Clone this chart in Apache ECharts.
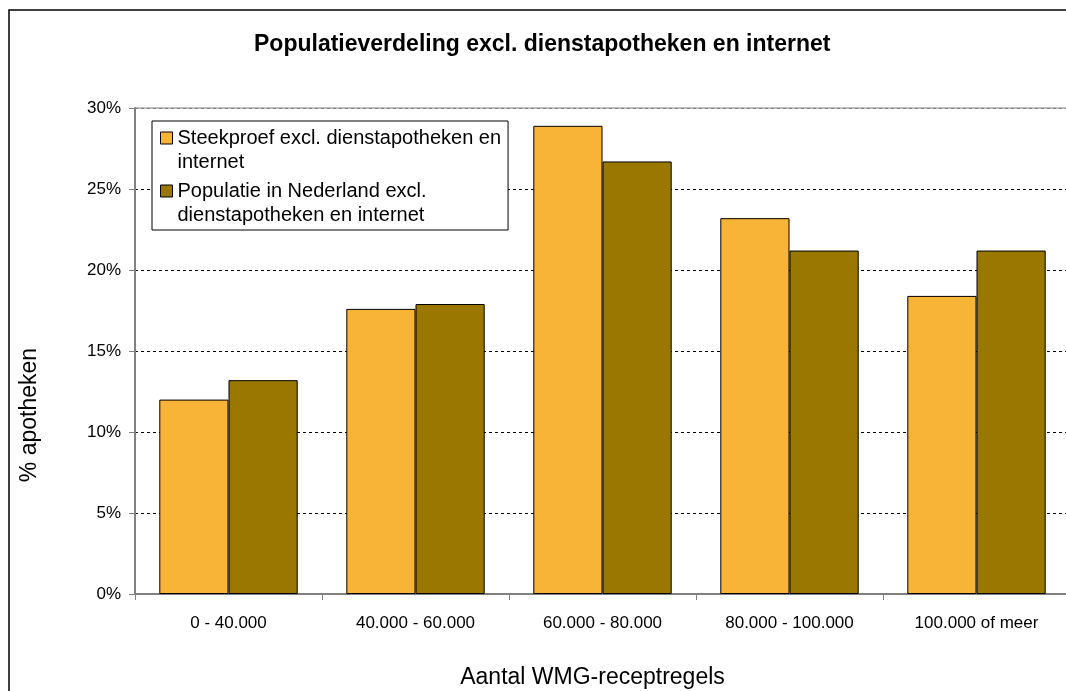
<!DOCTYPE html>
<html>
<head>
<meta charset="utf-8">
<script src="https://cdn.jsdelivr.net/npm/echarts@6/dist/echarts.min.js"></script>
<style>
html,body{margin:0;padding:0;background:#fff;}
#chart{width:1066px;height:691px;}
</style>
</head>
<body>
<div id="chart"></div>
<script>
const categories = ['0 - 40.000', '40.000 - 60.000', '60.000 - 80.000', '80.000 - 100.000', '100.000 of meer'];
const seriesNames = ['Steekproef excl. dienstapotheken en internet', 'Populatie in Nederland excl. dienstapotheken en internet'];
const legendLabels = ['Steekproef excl. dienstapotheken en\ninternet', 'Populatie in Nederland excl.\ndienstapotheken en internet'];
const steekproef = [12.0, 17.6, 28.9, 23.2, 18.4];
const populatie = [13.2, 17.9, 26.7, 21.2, 21.2];
const yTicks = [0, 5, 10, 15, 20, 25, 30];

const chart = echarts.init(document.getElementById('chart'), null, {renderer: 'canvas'});
const FONT = '"Liberation Sans", Arial, sans-serif';
const labelMap = {};
seriesNames.forEach((n, i) => { labelMap[n] = legendLabels[i]; });

const option = {
  animation: false,
  backgroundColor: '#fff',
  textStyle: {fontFamily: FONT, color: '#000'},
  title: {
    text: 'Populatieverdeling excl. dienstapotheken en internet',
    left: 249, top: 28,
    textStyle: {fontFamily: FONT, fontSize: 23, fontWeight: 'bold', color: '#000'}
  },
  legend: {
    orient: 'vertical',
    left: 152, top: 121,
    padding: [5, 7, 3, 8],
    itemWidth: 12, itemHeight: 36, itemGap: 5,
    icon: 'path://M0,0H12V12H0Z M0,36',
    itemStyle: {borderColor: '#000', borderWidth: 1},
    borderColor: '#000', borderWidth: 1, backgroundColor: '#fff',
    data: seriesNames,
    formatter: (name) => labelMap[name],
    textStyle: {fontFamily: FONT, fontSize: 20, lineHeight: 24, color: '#000'}
  },
  grid: {
    left: 135, right: -4, top: 108, bottom: 97,
    containLabel: false,
    outerBoundsMode: 'none',
    show: true, borderColor: '#808080', borderWidth: 1, backgroundColor: 'transparent'
  },
  xAxis: {
    type: 'category',
    data: categories,
    axisLine: {lineStyle: {color: '#808080', width: 2}},
    axisTick: {show: true, length: 6, alignWithLabel: false, lineStyle: {color: '#808080'}},
    axisLabel: {fontFamily: FONT, fontSize: 17, color: '#000', margin: 21},
    name: 'Aantal WMG-receptregels',
    nameLocation: 'middle',
    nameGap: 72,
    nameTextStyle: {fontFamily: FONT, fontSize: 23, color: '#000', padding: [0, 20, 0, 0]}
  },
  yAxis: {
    type: 'value',
    min: 0, max: 30, interval: 5,
    axisLine: {show: true, lineStyle: {color: '#808080', width: 2}},
    axisTick: {show: true, length: 6, lineStyle: {color: '#808080'}},
    axisLabel: {fontFamily: FONT, fontSize: 17, color: '#000', margin: 14,
      formatter: (v) => yTicks.indexOf(v) >= 0 ? v + '%' : ''},
    splitLine: {show: true, lineStyle: {color: ['#000', '#000', '#000', '#000', '#000', '#000', '#808080'], type: [3, 3], width: 1}}
  },
  graphic: [
    {type: 'rect', shape: {x: 9, y: 10, width: 1200, height: 800}, style: {fill: 'none', stroke: '#000', lineWidth: 1.5}, z: 0, silent: true},
    {type: 'text', x: 30, y: 415, rotation: Math.PI / 2,
      style: {text: '% apotheken', fontFamily: FONT, fontSize: 23, fill: '#000', align: 'center', verticalAlign: 'middle'}}
  ],
  series: [
    {name: seriesNames[0], type: 'bar', data: steekproef, barGap: '0%', barCategoryGap: '26%',
      itemStyle: {color: '#F8B437', borderColor: '#000', borderWidth: 1}},
    {name: seriesNames[1], type: 'bar', data: populatie, barGap: '0%', barCategoryGap: '26%',
      itemStyle: {color: '#9A7800', borderColor: '#000', borderWidth: 1}}
  ]
};
chart.setOption(option);
</script>
</body>
</html>
